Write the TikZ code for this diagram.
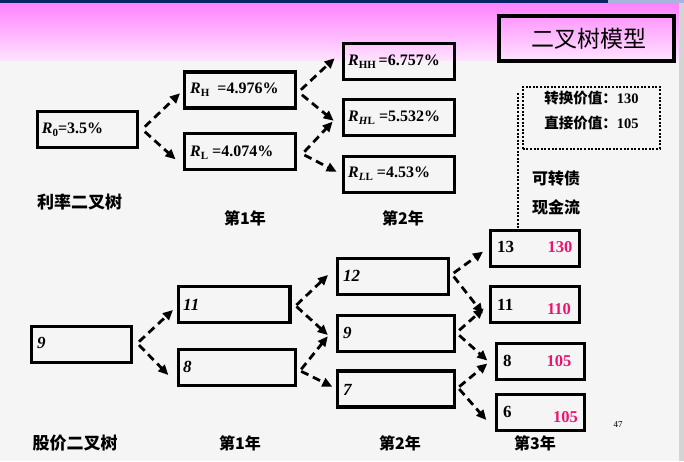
\documentclass[tikz,border=0pt]{standalone}
\usepackage{fontspec}
\setmainfont{Liberation Serif}
\newfontfamily\cjk{Noto Sans CJK SC}
\usetikzlibrary{arrows.meta,calc}
\definecolor{navy}{RGB}{10,36,100}
\definecolor{topblue}{RGB}{168,180,224}
\definecolor{pinktop}{RGB}{255,128,255}
\definecolor{pinkbot}{RGB}{255,226,255}
\definecolor{bggray}{RGB}{245,245,245}
\definecolor{stripgray}{RGB}{212,212,212}
\definecolor{valpink}{RGB}{238,20,110}
\newcommand{\mysub}[1]{\raisebox{-3pt}{\fontsize{11}{11}\selectfont #1}}
\begin{document}
\begin{tikzpicture}[x=1pt,y=-1pt,
  box/.style={draw=black, line width=3.4pt, rectangle, inner sep=0pt, minimum width=111pt, minimum height=36pt},
  arr/.style={line width=2.8pt, dash pattern=on 8pt off 5pt, -{Triangle[length=10pt,width=9pt]}},
  lbl/.style={font=\bfseries\fontsize{16}{16}\selectfont, inner sep=0pt, anchor=west},
  nlbl/.style={font=\bfseries\fontsize{17}{17}\selectfont, inner sep=0pt, anchor=west},
  ilbl/.style={font=\bfseries\itshape\fontsize{17}{17}\selectfont, inner sep=0pt, anchor=west},
  val/.style={font=\bfseries\fontsize{16.5}{16.5}\selectfont, inner sep=0pt, text=valpink},
  cjklbl/.style={font=\cjk\bfseries\fontsize{16}{16}\selectfont, inner sep=0pt},
  dotline/.style={line width=2pt, dash pattern=on 2pt off 1.6pt}]
% background
\useasboundingbox (0,0) rectangle (684,461);
\fill[bggray] (0,0) rectangle (684,461);
\shade[top color=pinktop, bottom color=pinkbot] (0,2) rectangle (679,60);
\fill[navy] (0,0) rectangle (608,2.5);
\fill[topblue] (608,0) rectangle (684,2.5);
\fill[stripgray] (679,2.5) rectangle (684,461);
% title
\node[draw=black, line width=4pt, minimum width=175pt, minimum height=45pt, inner sep=0pt] (title) at (586.5,38.5) {};
\node[font=\cjk\fontsize{23}{23}\selectfont, inner sep=0pt] (titlet) at (589,38.5) {二叉树模型};
% interest-rate tree
\node[box, minimum width=100pt] (r0) at (87.3,129.5) {};
\node[box] (rh) at (239.7,89.8) {};
\node[box] (rl) at (239.7,151.3) {};
\node[box] (rhh) at (398.8,61.3) {};
\node[box] (rhl) at (398.8,117.3) {};
\node[box] (rll) at (398.8,174.5) {};
\node[lbl] (r0t) at (41.7,129.5) {\textit{R}\mysub{0}=3.5\%};
\node[lbl] (rht) at (190,90) {\textit{R}\mysub{H}\ \ =4.976\%};
\node[lbl] (rlt) at (190,152.7) {\textit{R}\mysub{L} =4.074\%};
\node[lbl] (rhht) at (348,61.7) {\textit{R}\mysub{HH}\,=6.757\%};
\node[lbl] (rhlt) at (348,118) {\textit{R}\mysub{\textit{H}L} =5.532\%};
\node[lbl] (rllt) at (348,174) {\textit{R}\mysub{\textit{L}L} =4.53\%};
\draw[arr] ($(r0.east)+(5.8,-2.8)$) -- ($(rh.west)+(-2.5,3.5)$);
\draw[arr] ($(r0.east)+(5.8,2.2)$) -- ($(rl.west)+(-7,8)$);
\draw[arr] ($(rh.east)+(4,0)$) -- ($(rhh.west)+(-7,-3)$);
\draw[arr] ($(rh.east)+(5,5)$) -- ($(rhl.west)+(-8,3.4)$);
\draw[arr] ($(rl.east)+(7.5,0.4)$) -- ($(rhl.west)+(-9,4.4)$);
\draw[arr] ($(rl.east)+(7.5,3.7)$) -- ($(rll.west)+(-5,-2.8)$);
\node[cjklbl, font=\cjk\bfseries\fontsize{17}{17}\selectfont] (ltree) at (79.5,201.7) {利率二叉树};
\node[cjklbl] (ly1) at (245,218) {第1年};
\node[cjklbl] (ly2) at (403,218) {第2年};
% convertible box
\node[draw=black, dotline, minimum width=137pt, minimum height=62pt, inner sep=0pt] (conv) at (591.3,117.8) {};
\node[font=\bfseries\fontsize{14.5}{14.5}\selectfont, inner sep=0pt] (cv1) at (591.5,98) {{\cjk 转换价值：}130};
\node[font=\bfseries\fontsize{14.5}{14.5}\selectfont, inner sep=0pt] (cv2) at (591.5,123) {{\cjk 直接价值：}105};
\node[cjklbl] (kz) at (556,178) {可转债};
\node[cjklbl] (xj) at (556,207) {现金流};
% stock tree
\node[box, minimum width=100pt] (s0) at (81.3,344.5) {};
\node[box, minimum width=111.7pt] (s11) at (234.3,304.5) {};
\node[box, minimum width=117pt] (s8) at (237,367.3) {};
\node[box] (s12) at (393,276.5) {};
\node[box, minimum width=117pt] (s9) at (396,333.3) {};
\node[box, minimum width=117pt] (s7) at (396,389) {};
\node[box, minimum width=89pt] (s13) at (535,248.5) {};
\node[box, minimum width=89pt] (s11r) at (535,304.5) {};
\node[box, minimum width=88pt] (s8r) at (540.5,361.5) {};
\node[box, minimum width=88pt] (s6) at (540.5,412.5) {};
\node[ilbl] (s0t) at (37,343) {9};
\node[ilbl] (s11t) at (183,305) {11};
\node[ilbl] (s8t) at (183,366.7) {8};
\node[ilbl] (s12t) at (343,276) {12};
\node[ilbl] (s9t) at (343,332.7) {9};
\node[ilbl] (s7t) at (343,390) {7};
\node[nlbl] (s13t) at (497,247.3) {13};
\node[val] (s13v) at (560,247) {130};
\node[nlbl] (s11rt) at (497,305) {11};
\node[val] (s11rv) at (559,309) {110};
\node[nlbl] (s8rt) at (503,360.7) {8};
\node[val] (s8rv) at (559,360.7) {105};
\node[nlbl] (s6t) at (503,412) {6};
\node[val] (s6v) at (565.5,417) {105};
\draw[arr] ($(s0.east)+(6,-2.8)$) -- ($(s11.west)+(-3.8,5.5)$);
\draw[arr] ($(s0.east)+(6,0.5)$) -- ($(s8.west)+(-8.5,7.7)$);
\draw[arr] ($(s11.east)+(4.6,0.5)$) -- ($(s12.west)+(-7.8,-1.5)$);
\draw[arr] ($(s11.east)+(4.6,2)$) -- ($(s9.west)+(-8,1.7)$);
\draw[arr] ($(s8.east)+(4,2)$) -- ($(s9.west)+(-8,3)$);
\draw[arr] ($(s8.east)+(4,4)$) -- ($(s7.west)+(-3.5,-2.3)$);
\draw[arr] ($(s12.east)+(3.5,-3.5)$) -- ($(s13.west)+(-5.8,3.2)$);
\draw[arr] ($(s12.east)+(3.5,0)$) -- ($(s11r.west)+(-6,9)$);
\draw[arr] ($(s9.east)+(3,-3)$) -- ($(s11r.west)+(-5,4)$);
\draw[arr] ($(s9.east)+(3,2)$) -- ($(s8r.west)+(-7.5,-1)$);
\draw[arr] ($(s7.east)+(3,-2.3)$) -- ($(s8r.west)+(-7.5,2)$);
\draw[arr] ($(s7.east)+(3,0)$) -- ($(s6.west)+(-8.5,7.5)$);
% dotted connector
\coordinate (cvtop) at (517.7,93);
\draw[dotline] (cvtop) -- (cvtop |- s13.north);
% bottom labels
\node[cjklbl, font=\cjk\bfseries\fontsize{17}{17}\selectfont] (stree) at (75,443) {股价二叉树};
\node[cjklbl] (sy1) at (240,443) {第1年};
\node[cjklbl] (sy2) at (400,443) {第2年};
\node[cjklbl] (sy3) at (535,443) {第3年};
\node[font=\fontsize{9}{9}\selectfont, inner sep=0pt] (pg) at (618,425) {47};
\end{tikzpicture}
\end{document}
